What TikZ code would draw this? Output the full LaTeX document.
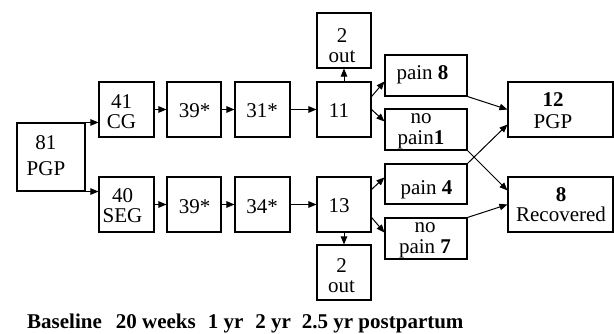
\documentclass[tikz,border=0pt]{standalone}
\usepackage{fontspec}
\setmainfont{Liberation Serif}
\usetikzlibrary{arrows.meta,calc}

\begin{document}
\begin{tikzpicture}[x=1pt,y=-1pt,
  box/.style={draw, line width=1.1pt, inner sep=0pt},
  sq/.style={box, minimum width=55pt, minimum height=55pt},
  pbox/.style={box, minimum width=82pt, minimum height=41pt},
  wbox/.style={box, minimum width=105pt, minimum height=55pt},
  lbl/.style={font=\fontsize{21}{20}\selectfont, align=center, inner sep=0pt},
  conn/.style={line width=1pt, -{Triangle[length=8pt,width=6.5pt]}},
]
\useasboundingbox (0,0) rectangle (614,334);

% frames
\node[box, minimum width=68pt, minimum height=68pt] (pgp0) at (51,157) {};
\node[sq] (cg)   at (126.5,109.5) {};
\node[sq, minimum width=54pt] (c39a) at (194,109.5) {};
\node[sq] (c31)  at (262.5,109.5) {};
\node[sq, minimum width=54pt] (b11)  at (344,109.5) {};
\node[sq, minimum width=54pt] (outA) at (344,40.5) {};
\node[sq] (seg)  at (126.5,204.5) {};
\node[sq, minimum width=54pt] (c39b) at (194,204.5) {};
\node[sq] (c34)  at (262.5,204.5) {};
\node[sq, minimum width=54pt] (b13)  at (344,204.5) {};
\node[sq, minimum width=54pt] (outB) at (344,272.5) {};
\node[pbox] (p8)  at (426,75.5) {};
\node[pbox] (np1) at (426,129.5) {};
\node[pbox, minimum height=40pt] (p4) at (426,184) {};
\node[pbox] (np7) at (426,238.5) {};
\node[wbox] (res12) at (560.5,109.5) {};
\node[wbox] (rec8)  at (560.5,204.5) {};

% labels inside the frames
\node[lbl, font=\fontsize{21}{26}\selectfont] (pgp0-t) at (46,156) {81\\PGP};
\node[lbl] (cg-t)   at (121.5,111.5) {41\\CG};
\node[lbl] (c39a-t) at (194.5,110.5) {39*};
\node[lbl] (c31-t)  at (262,110.5) {31*};
\node[lbl] (b11-t)  at (339,110.3) {11};
\node[lbl] (outA-t) at (342,45.5) {2\\out};
\node[lbl] (seg-t)  at (122.5,206) {40\\SEG};
\node[lbl] (c39b-t) at (194.5,206.3) {39*};
\node[lbl] (c34-t)  at (262,206.3) {34*};
\node[lbl] (b13-t)  at (339,206) {13};
\node[lbl] (outB-t) at (341.5,275.5) {2\\out};
\node[lbl] (p8-t)   at (422.5,74.7) {pain \textbf{8}};
\node[lbl, font=\fontsize{21}{20.5}\selectfont] (np1-t) at (421,131.5) {no\\pain\textbf{1}};
\node[lbl] (p4-t)   at (426.5,189.7) {pain \textbf{4}};
\node[lbl, font=\fontsize{21}{20.5}\selectfont] (np7-t) at (425,240.5) {no\\pain \textbf{7}};
\node[lbl, font=\fontsize{21}{22}\selectfont] (res12-t) at (553,110.3) {\textbf{12}\\PGP};
\node[lbl, font=\fontsize{21}{20}\selectfont] (rec8-t) at (561,205) {\textbf{8}\\Recovered};

% time axis
\node[anchor=base west, inner sep=0pt, font=\bfseries\fontsize{21}{21}\selectfont] (timeline) at (27,328)
  {Baseline\hspace{14pt}20 weeks\hspace{12pt}1 yr\hspace{12pt}2 yr\hspace{11pt}2.5 yr postpartum};

% flow
\draw[conn] (pgp0.north east) -- (cg.west |- pgp0.north east);
\draw[conn] (pgp0.south east) -- (seg.west |- pgp0.south east);
\draw[conn] (cg.east) -- (c39a.west);
\draw[conn] (c39a.east) -- (c31.west);
\draw[conn] (c31.east) -- (b11.west);
\draw[conn] (seg.east) -- (c39b.west);
\draw[conn] (c39b.east) -- (c34.west);
\draw[conn] (c34.east) -- (b13.west);
\draw[conn] (b11.north) -- (outA.south);
\draw[conn] (b13.south) -- (outB.north);
\draw[conn] (b11.east |- p8.south) -- (p8.west |- b11.north);
\draw[conn] (b11.east) -- ($(np1.north west)+(0,13)$);
\draw[conn] ($(b13.north east)+(0,13)$) -- ($(p4.north west)+(0,14)$);
\draw[conn] (b13.east |- np7.north) -- (np7.west |- b13.south);
\draw[conn] (p8.south east) -- (res12.west);
\draw[conn] (np1.south east) -- ($(rec8.north west)+(0,14)$);
\draw[conn] (p4.north east) -- ($(res12.south west)+(0,-13)$);
\draw[conn] (np7.north east) -- (rec8.west);
\end{tikzpicture}
\end{document}
